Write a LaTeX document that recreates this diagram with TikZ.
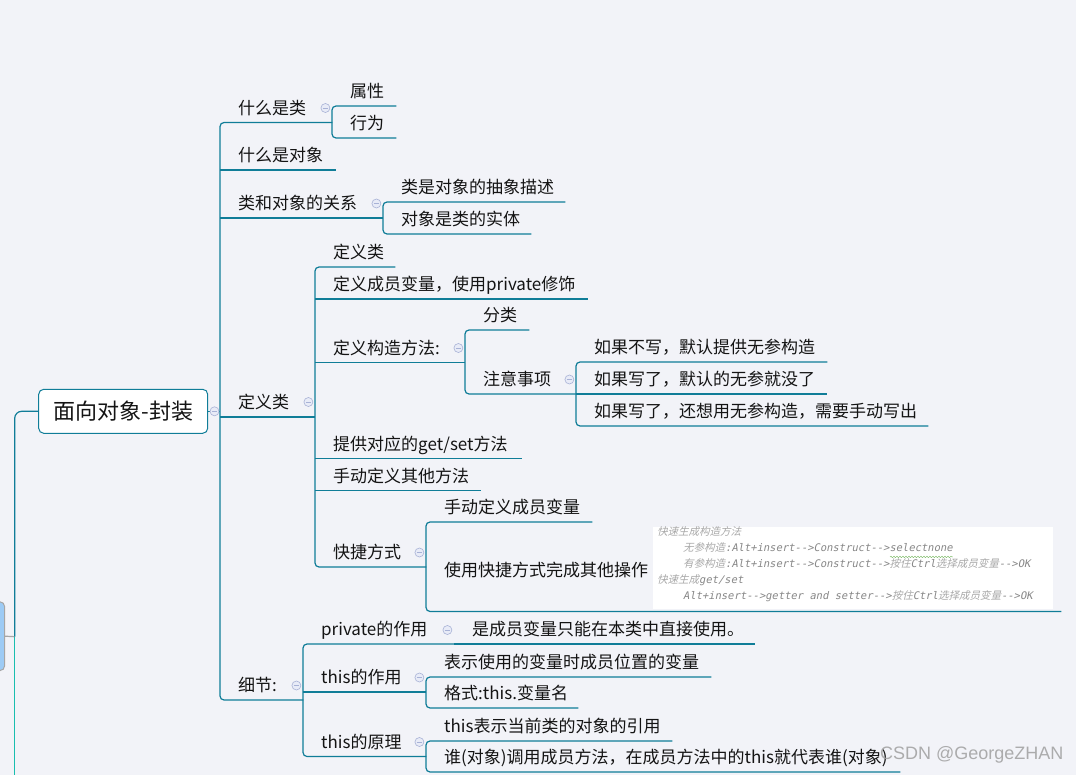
\documentclass[tikz,border=0pt]{standalone}
\usepackage{fontspec}
\setmainfont{Noto Sans CJK SC}
\newfontfamily\codemono[FakeSlant=0.2]{DejaVu Sans Mono}
\newfontfamily\codecjk[FakeSlant=0.25]{Noto Sans CJK SC}
\newfontfamily\wmfont{Liberation Sans}
\usetikzlibrary{calc,decorations.pathmorphing}
\definecolor{bg}{RGB}{242,243,248}
\definecolor{teal1}{RGB}{16,125,152}
\definecolor{green1}{RGB}{26,190,175}
\definecolor{foldfill}{RGB}{232,235,247}
\definecolor{folddraw}{RGB}{168,178,214}
\definecolor{txt}{RGB}{20,20,20}
\definecolor{codeg}{RGB}{135,135,135}
\definecolor{codec}{RGB}{168,168,168}
\definecolor{mainblue}{RGB}{157,203,245}
\definecolor{wavy}{RGB}{130,190,110}
\newcommand{\arr}{-\kern0pt-\kern0pt>}
\begin{document}
\begin{tikzpicture}[x=1pt,y=-1pt,
  item/.style={anchor=south west, inner sep=0pt, text width=#1pt, align=left,
    font=\fontsize{17}{20}\selectfont, text=txt, text height=15pt, text depth=8pt},
  rootbox/.style={draw=teal1, fill=white, rounded corners=5pt, line width=1pt,
    minimum width=169pt, minimum height=44pt, inner sep=0pt,
    font=\fontsize{22}{26}\selectfont, text=txt},
  ln/.style={draw=teal1, line width=1.2pt, rounded corners=4pt},
  fold/.style={circle, minimum size=9pt, inner sep=0pt, fill=foldfill, draw=folddraw,
    line width=0.6pt, path picture={\draw[folddraw, line width=0.8pt]
      ($(path picture bounding box.center)+(-2.5pt,0)$) -- ($(path picture bounding box.center)+(2.5pt,0)$);}},
  code/.style={anchor=west, inner sep=0pt, text=codec, font=\fontsize{10.5}{12}\selectfont,
    text height=8pt, text depth=2.5pt}
]
\fill[bg] (0,0) rectangle (1076,775);
\useasboundingbox (0,0) rectangle (1076,775);
\clip (0,0) rectangle (1076,775);

% root and main
\node[rootbox] (root) at (123.2,411.3) {面向对象-封装};
\node[draw=gray!70, fill=mainblue, rounded corners=5pt, minimum width=40pt, minimum height=69pt, inner sep=0pt, line width=1pt] (main) at (-15.3,636.2) {};
\coordinate (j) at (14.7,636.7);
\coordinate (off) at (14.7,800);

% level 1
\node[item=112] (n1) at (220,122.5) {\noindent\hspace*{18pt}什么是类};
\node[item=116] (n2) at (220,170) {\noindent\hspace*{18pt}什么是对象};
\node[item=163] (n3) at (220,218) {\noindent\hspace*{18pt}类和对象的关系};
\node[item=95] (n4) at (220,417) {\noindent\hspace*{18pt}定义类};
\node[item=83] (n5) at (220,700) {\noindent\hspace*{18pt}细节:};

% children of n1, n3
\node[item=64] (n11) at (332,106) {\noindent\hspace*{18pt}属性};
\node[item=64] (n12) at (332,138) {\noindent\hspace*{18pt}行为};
\node[item=182] (n31) at (383,202) {\noindent\hspace*{18pt}类是对象的抽象描述};
\node[item=148] (n32) at (383,234) {\noindent\hspace*{18pt}对象是类的实体};

% children of n4
\node[item=80] (n41) at (315,267) {\noindent\hspace*{18pt}定义类};
\node[item=273] (n42) at (315,299) {\noindent\hspace*{18pt}定义成员变量，使用private修饰};
\node[item=150] (n43) at (315,362.5) {\noindent\hspace*{18pt}定义构造方法:};
\node[item=64] (n431) at (465,330) {\noindent\hspace*{18pt}分类};
\node[item=111] (n432) at (465,394) {\noindent\hspace*{18pt}注意事项};
\node[item=251] (n4321) at (576,362) {\noindent\hspace*{18pt}如果不写，默认提供无参构造};
\node[item=251] (n4322) at (576,394) {\noindent\hspace*{18pt}如果写了，默认的无参就没了};
\node[item=352] (n4323) at (576,426) {\noindent\hspace*{18pt}如果写了，还想用无参构造，需要手动写出};
\node[item=207] (n44) at (315,458.5) {\noindent\hspace*{18pt}提供对应的get/set方法};
\node[item=166] (n45) at (315,490.5) {\noindent\hspace*{18pt}手动定义其他方法};
\node[item=111] (n46) at (315,567) {\noindent\hspace*{18pt}快捷方式};
\node[item=166] (n461) at (426,522) {\noindent\hspace*{18pt}手动定义成员变量};
\node[item=635, text depth=35pt] (n462) at (426,611.5) {\noindent\hspace*{18pt}使用快捷方式完成其他操作};

% children of n5
\node[item=151] (n51) at (303,644) {\noindent\hspace*{18pt}private的作用};
\node[item=301] (n511) at (454,644) {\noindent\hspace*{18pt}是成员变量只能在本类中直接使用。};
\node[item=123] (n52) at (303,692) {\noindent\hspace*{18pt}this的作用};
\node[item=285] (n521) at (426,677) {\noindent\hspace*{18pt}表示使用的变量时成员位置的变量};
\node[item=152] (n522) at (426,708) {\noindent\hspace*{18pt}格式:this.变量名};
\node[item=123] (n53) at (303,756.5) {\noindent\hspace*{18pt}this的原理};
\node[item=246] (n531) at (426,741) {\noindent\hspace*{18pt}this表示当前类的对象的引用};
\node[item=474] (n532) at (426,772) {\noindent\hspace*{18pt}谁(对象)调用成员方法，在成员方法中的this就代表谁(对象)};

% code screenshot
\node[fill=white, inner sep=0pt, minimum width=400pt, minimum height=82pt, anchor=north west] (img) at (653,527) {};
\node[code] (c1) at (657,533) {\codecjk 快速生成构造方法};
\node[code] (c2) at (683,549) {{\codecjk 无参构造}{\codemono\color{codeg}:Alt+insert\arr Construct\arr selectnone}};
\node[code] (c3) at (683,565) {{\codecjk 有参构造}{\codemono\color{codeg}:Alt+insert\arr Construct\arr}{\codecjk 按住}{\codemono\color{codeg}Ctrl}{\codecjk 选择成员变量}{\codemono\color{codeg}\arr OK}};
\node[code] (c4) at (657,581) {{\codecjk 快速生成}{\codemono\color{codeg}get/set}};
\node[code] (c5) at (683,597) {{\codemono\color{codeg}Alt+insert\arr getter and setter\arr}{\codecjk 按住}{\codemono\color{codeg}Ctrl}{\codecjk 选择成员变量}{\codemono\color{codeg}\arr OK}};
\draw[wavy, line width=0.5pt, decorate, decoration={snake, amplitude=0.7pt, segment length=3pt}]
  ($(c2.south east)+(-63,2.5)$) -- ($(c2.south east)+(0,2.5)$);

% connectors
\draw[line width=1.2pt, draw=gray!70] (main.east) -- (j);
\draw[ln, rounded corners=7pt] (j) -- (j |- root.west) -- (root.west);
\draw[line width=1.2pt, draw=green1] (j) -- (off);
\draw[ln] (root.east) -- (root.east -| n1.south west);

\draw[ln] (n1.south east) -- (n1.south west) -- (n5.south west) -- (n5.south east);
\draw[ln] (n2.south west) -- (n2.south east);
\draw[ln] (n3.south west) -- (n3.south east);
\draw[ln] (n4.south west) -- (n4.south east);

\draw[ln] (n11.south east) -- (n11.south west) -- (n12.south west) -- (n12.south east);
\draw[ln] (n31.south east) -- (n31.south west) -- (n32.south west) -- (n32.south east);

\draw[ln] (n41.south east) -- (n41.south west) -- (n46.south west) -- (n46.south east);
\draw[ln] (n42.south west) -- (n42.south east);
\draw[ln] (n43.south west) -- (n43.south east);
\draw[ln] (n44.south west) -- (n44.south east);
\draw[ln] (n45.south west) -- (n45.south east);
\draw[ln] (n431.south east) -- (n431.south west) -- (n432.south west) -- (n432.south east);
\draw[ln] (n4321.south east) -- (n4321.south west) -- (n4323.south west) -- (n4323.south east);
\draw[ln] (n4322.south west) -- (n4322.south east);
\draw[ln] (n461.south east) -- (n461.south west) -- (n462.south west) -- (n462.south east);

\draw[ln] (n51.south east) -- (n51.south west) -- (n53.south west) -- (n53.south east);
\draw[ln] (n52.south west) -- (n52.south east);
\draw[ln] (n511.south west) -- (n511.south east);
\draw[ln] (n521.south east) -- (n521.south west) -- (n522.south west) -- (n522.south east);
\draw[ln] (n531.south east) -- (n531.south west) -- (n532.south west) -- (n532.south east);

% fold markers
\node[fold] (froot) at ($(root.east)+(6.3,0)$) {};
\node[fold] (f1) at ($(n1.south east)+(-7,-14.5)$) {};
\node[fold] (f3) at ($(n3.south east)+(-7,-14.5)$) {};
\node[fold] (f4) at ($(n4.south east)+(-7,-15)$) {};
\node[fold] (f43) at ($(n43.south east)+(-7,-14.5)$) {};
\node[fold] (f432) at ($(n432.south east)+(-7,-14.5)$) {};
\node[fold] (f46) at ($(n46.south east)+(-7,-14.5)$) {};
\node[fold] (f5) at ($(n5.south east)+(-7,-14.5)$) {};
\node[fold] (f51) at ($(n51.south east)+(-7,-14)$) {};
\node[fold] (f52) at ($(n52.south east)+(-7,-14.5)$) {};
\node[fold] (f53) at ($(n53.south east)+(-7,-14.5)$) {};

% watermark
\node[anchor=west, inner sep=0pt, font=\wmfont\fontsize{18}{20}\selectfont, text=gray!75, opacity=0.85] (wm) at (880,755) {CSDN @GeorgeZHAN};
\end{tikzpicture}
\end{document}
